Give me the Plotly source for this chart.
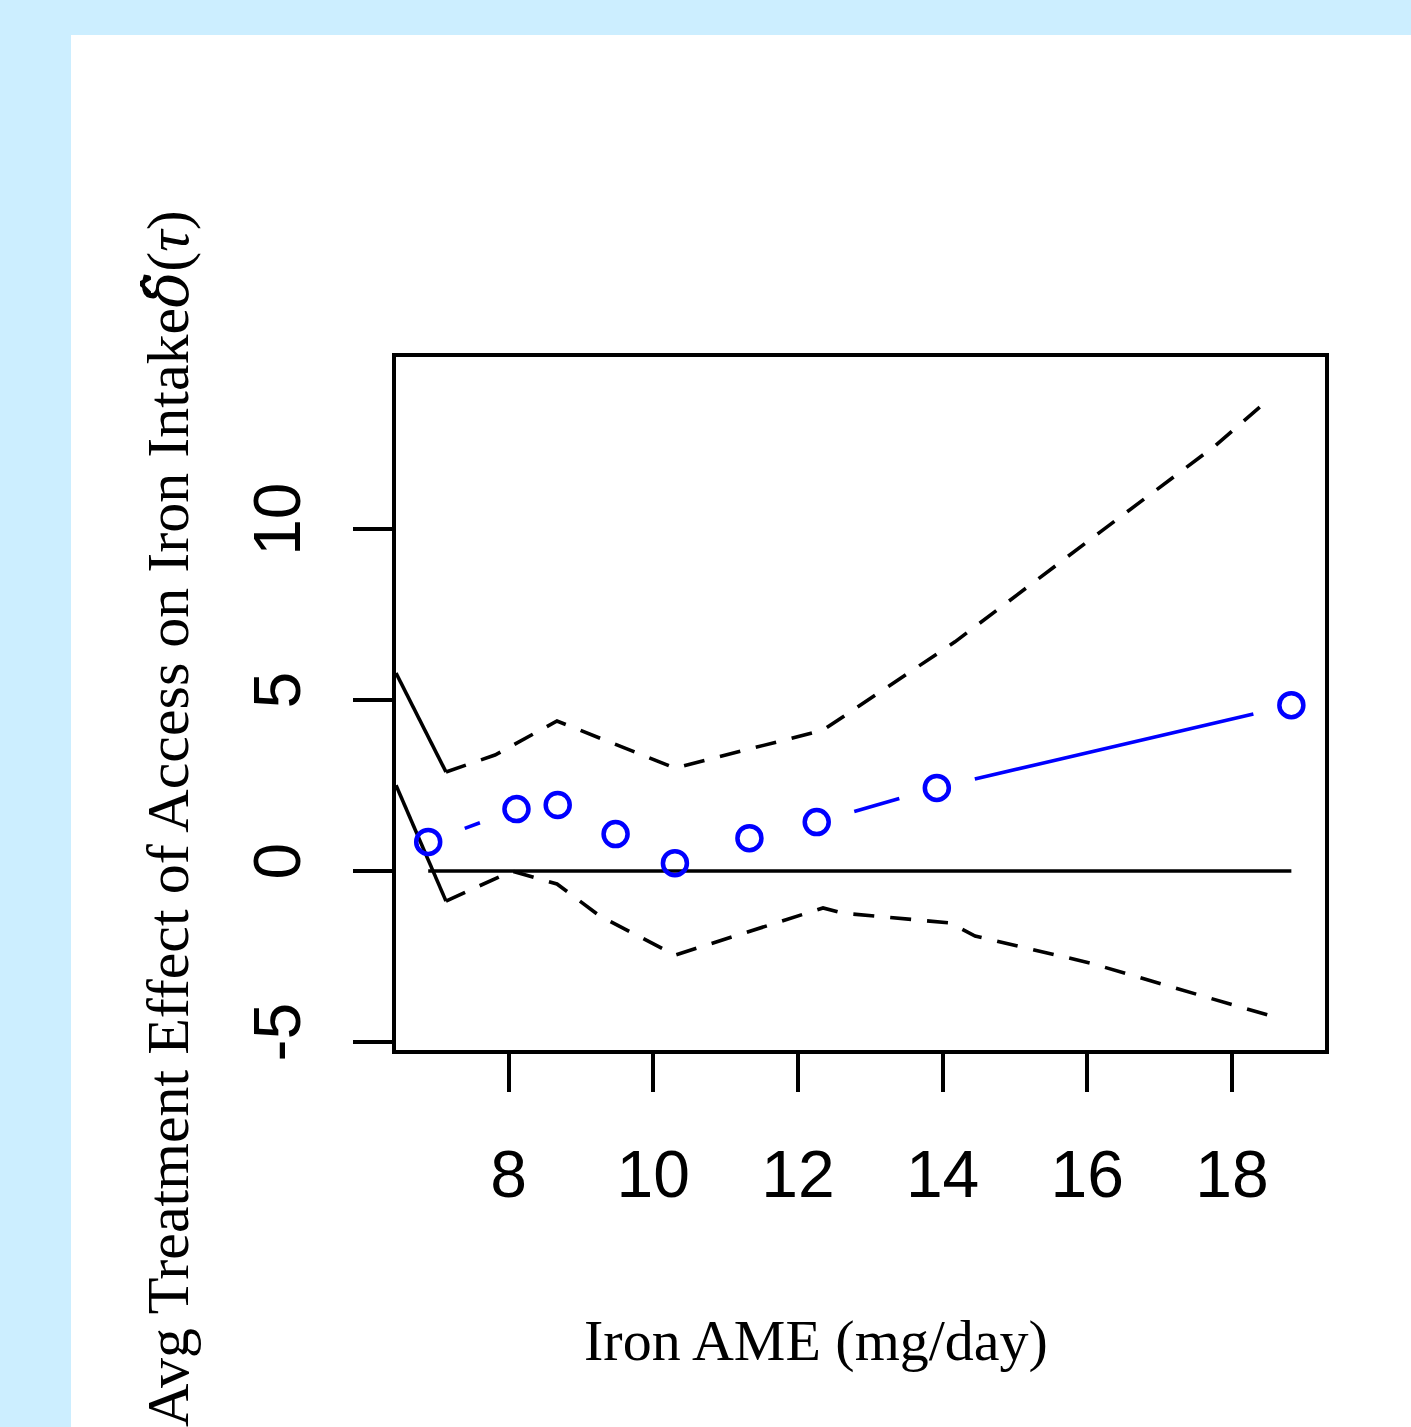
import numpy as np
import plotly.graph_objects as go

# ---------------- data ----------------
pt_x = [6.89, 8.11, 8.68, 9.48, 10.30, 11.33, 12.26, 13.92, 18.82]
pt_y = [0.85, 1.81, 1.93, 1.08, 0.23, 0.96, 1.43, 2.43, 4.85]

upper_x = [7.136, 7.813, 8.670, 10.301, 12.347, 14.171, 16.176, 17.765, 18.429]
upper_y = [2.895, 3.39, 4.386, 3.01, 4.12, 6.70, 9.91, 12.43, 13.65]

lower_x = [7.136, 8.048, 8.670, 9.265, 10.301, 12.347, 12.610, 14.103, 14.449, 16.037, 17.972, 18.594]
lower_y = [-0.88, 0.00, -0.38, -1.32, -2.46, -1.08, -1.23, -1.52, -1.90, -2.69, -3.89, -4.27]

solid_up_x = [6.445, 7.136]
solid_up_y = [5.79, 2.895]
solid_lo_x = [6.445, 7.136]
solid_lo_y = [2.51, -0.88]

x_ticks = [8, 10, 12, 14, 16, 18]
y_ticks = [-5, 0, 5, 10]

# ---------------- layout constants ----------------
W, H = 1411, 1427
ML, MR, MT, MB = 396, 86, 357, 377
XR = [6.445, 19.285]
YR = [-5.234, 15.03]
PW = W - ML - MR
PH = H - MT - MB
sx = PW / (XR[1] - XR[0])
sy = PH / (YR[1] - YR[0])

# R type="b": line segments with a gap around each point
GAP = 39.0
seg_x, seg_y = [], []
for i in range(len(pt_x) - 1):
    x1, y1, x2, y2 = pt_x[i], pt_y[i], pt_x[i + 1], pt_y[i + 1]
    dxp, dyp = (x2 - x1) * sx, (y2 - y1) * sy
    L = float(np.hypot(dxp, dyp))
    if L > 2 * GAP + 4:
        f = GAP / L
        seg_x += [x1 + f * (x2 - x1), x2 - f * (x2 - x1), None]
        seg_y += [y1 + f * (y2 - y1), y2 - f * (y2 - y1), None]

LW = 3.6
fig = go.Figure()

fig.add_trace(go.Scatter(x=[min(pt_x), max(pt_x)], y=[0, 0], mode="lines",
                         line=dict(color="black", width=LW), hoverinfo="skip"))
fig.add_trace(go.Scatter(x=solid_up_x, y=solid_up_y, mode="lines",
                         line=dict(color="black", width=LW)))
fig.add_trace(go.Scatter(x=solid_lo_x, y=solid_lo_y, mode="lines",
                         line=dict(color="black", width=LW)))
fig.add_trace(go.Scatter(x=upper_x, y=upper_y, mode="lines",
                         line=dict(color="black", width=LW, dash="21px,16px")))
fig.add_trace(go.Scatter(x=lower_x, y=lower_y, mode="lines",
                         line=dict(color="black", width=LW, dash="21px,16px")))
fig.add_trace(go.Scatter(x=seg_x, y=seg_y, mode="lines",
                         line=dict(color="#0000ff", width=LW)))
fig.add_trace(go.Scatter(x=pt_x, y=pt_y, mode="markers",
                         marker=dict(symbol="circle-open", size=24, color="#0000ff",
                                     line=dict(color="#0000ff", width=4.5))))

# white panel on light-blue page
fig.add_shape(type="rect", xref="paper", yref="paper",
              x0=(71 - ML) / PW, x1=(W - ML) / PW + 0.05,
              y0=-(H - (H - MB)) / PH - 0.05, y1=(H - MB - 35) / PH,
              fillcolor="white", line=dict(width=0), layer="below")

tick_font = dict(family="Liberation Sans, Arial, sans-serif", size=66, color="black")
fig.update_xaxes(range=XR, tickvals=x_ticks, ticktext=[str(v) for v in x_ticks],
                 showgrid=False, zeroline=False, showline=True, mirror=True,
                 linecolor="black", linewidth=3.5, ticks="outside", ticklen=38,
                 tickwidth=3.5, tickcolor="black", tickfont=tick_font,
                 ticklabelstandoff=26)
fig.update_yaxes(range=YR, tickvals=y_ticks, ticktext=[str(v) for v in y_ticks],
                 showgrid=False, zeroline=False, showline=True, mirror=True,
                 linecolor="black", linewidth=3.5, ticks="outside", ticklen=39,
                 tickwidth=3.5, tickcolor="black", tickfont=tick_font, tickangle=-90,
                 ticklabelstandoff=27)

title_font = dict(family="Liberation Serif, Times New Roman, serif", size=58, color="black")
fig.add_annotation(xref="paper", yref="paper", x=(816 - ML) / PW, y=(H - MB - 1340) / PH,
                   text="Iron AME (mg/day)", showarrow=False, font=title_font,
                   xanchor="center", yanchor="middle")
ytitle_font = dict(title_font, size=60)
fig.add_annotation(xref="paper", yref="paper", x=(167 - ML) / PW, y=(H - MB - 819) / PH,
                   text=("Avg Treatment Effect of Access on Iron Intake"
                         "<span style=\"font-family:'DejaVu Serif'\"><i>\u03b4\u0302</i></span>"
                         "(<i>\u03c4</i>)"),
                   showarrow=False, font=ytitle_font, textangle=-90,
                   xanchor="center", yanchor="middle")

fig.update_layout(width=W, height=H, margin=dict(l=ML, r=MR, t=MT, b=MB, pad=0),
                  paper_bgcolor="#cceeff", plot_bgcolor="white", showlegend=False)

fig.write_html("out.html")
